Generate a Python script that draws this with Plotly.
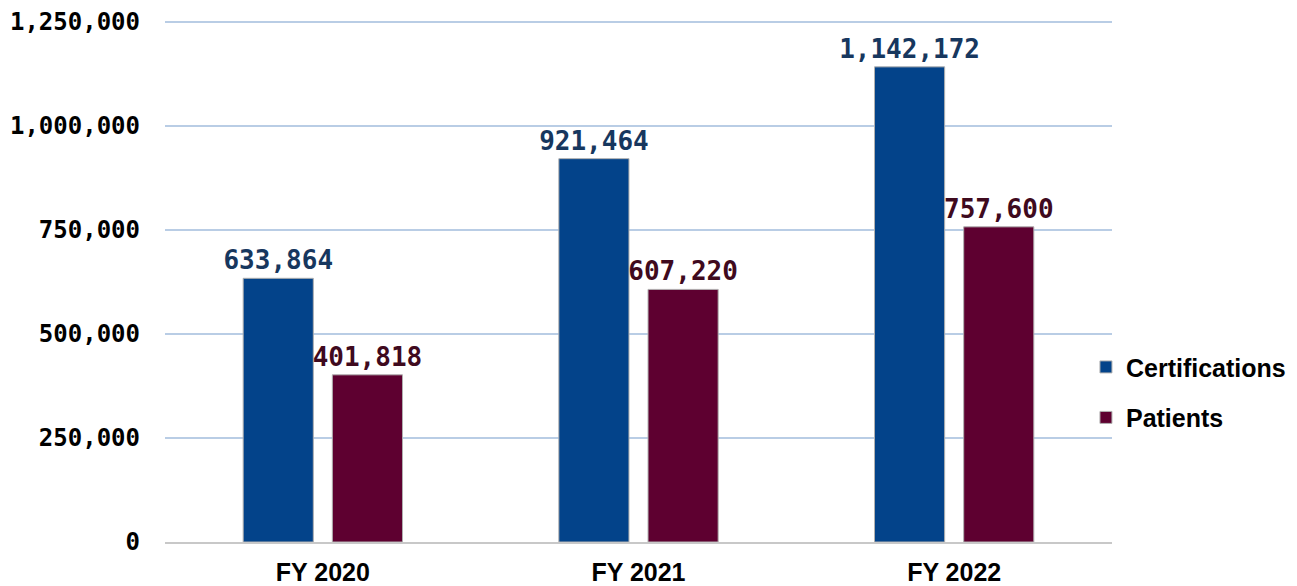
import plotly.graph_objects as go

categories = ["FY 2020", "FY 2021", "FY 2022"]
certifications = [633864, 921464, 1142172]
patients = [401818, 607220, 757600]
tick_vals = [0, 250000, 500000, 750000, 1000000, 1250000]
tick_text = ["0", "250,000", "500,000", "750,000", "1,000,000", "1,250,000"]

MONO = "DejaVu Sans Mono"
SANS = "Liberation Sans, Arial"

fig = go.Figure()
fig.add_trace(go.Bar(
    x=categories, y=certifications, name="Certifications",
    marker=dict(color="#03438A", line=dict(color="#B0B0B0", width=1)),
    texttemplate="%{y:,}", textposition="outside", constraintext="none",
    textfont=dict(family=MONO, size=26, color="#17375E", weight="bold"),
    cliponaxis=False, legendgroup="a",
))
fig.add_trace(go.Bar(
    x=categories, y=patients, name="Patients",
    marker=dict(color="#5E0030", line=dict(color="#B0B0B0", width=1)),
    texttemplate="%{y:,}", textposition="outside", constraintext="none",
    textfont=dict(family=MONO, size=26, color="#3F0A1E", weight="bold"),
    cliponaxis=False, legendgroup="b",
))

fig.update_layout(
    width=1297, height=586,
    margin=dict(l=165, r=185, t=19, b=44, autoexpand=False),
    paper_bgcolor="white", plot_bgcolor="white",
    barmode="group", bargap=0.435, bargroupgap=0.2135,
    showlegend=True,
    legend=dict(
        x=0.9725, xanchor="left", y=0.2865, yanchor="middle",
        bgcolor="rgba(0,0,0,0)",
        font=dict(family=SANS, size=25, color="#000000", weight="bold"),
        tracegroupgap=15, itemwidth=30,
    ),
    yaxis=dict(
        range=[0, 1257212], tickvals=tick_vals, ticktext=tick_text,
        showgrid=True, gridcolor="#B9CDE5", gridwidth=2,
        zeroline=False, showline=False, ticks="",
        ticklabelstandoff=24,
        tickfont=dict(family=MONO, size=24, color="#000000", weight="bold"),
    ),
    xaxis=dict(
        showline=True, linecolor="#C8C8C8", linewidth=2, ticks="",
        ticklabelstandoff=7,
        tickfont=dict(family=SANS, size=25, color="#000000", weight="bold"),
    ),
)

fig.write_html(
    "out.html",
    config={"displayModeBar": False},
    post_script="document.body.style.margin='0px';document.body.style.overflow='hidden';",
)
